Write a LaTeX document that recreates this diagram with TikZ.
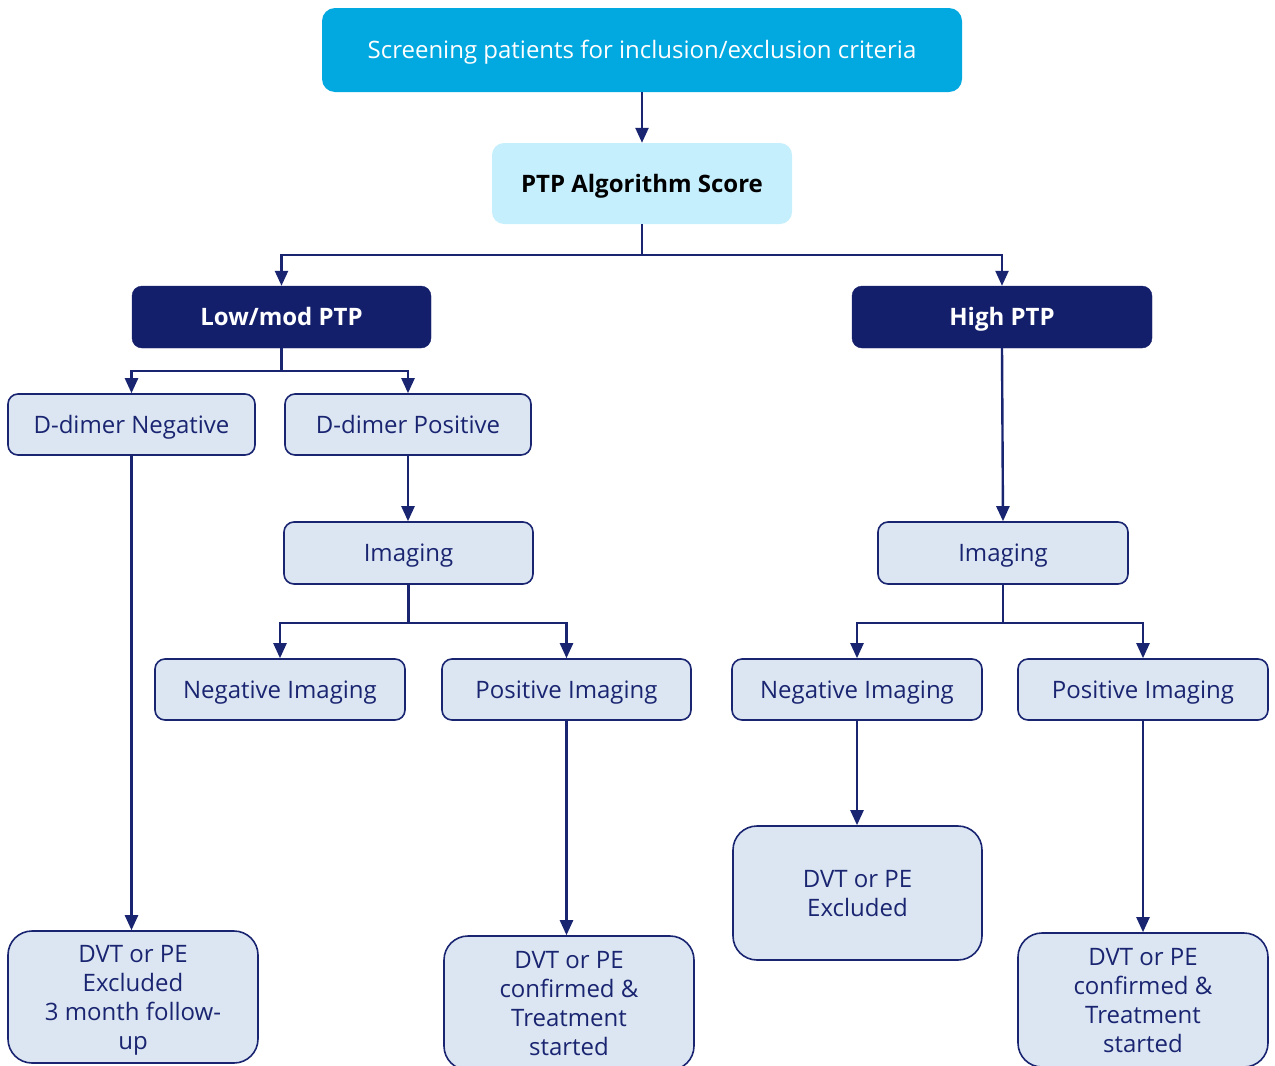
\documentclass[tikz,border=0pt]{standalone}
\usepackage{fontspec}
\setmainfont{Open Sans}
\usetikzlibrary{arrows.meta}
\definecolor{topcyan}{HTML}{02A8E0}
\definecolor{ptpfill}{HTML}{C6EFFD}
\definecolor{navy}{HTML}{141F6B}
\definecolor{linenavy}{HTML}{1A2571}
\definecolor{boxfill}{HTML}{DCE6F2}
\tikzset{
  base/.style={rectangle, rounded corners=10pt, inner sep=0pt, align=center,
    text depth=0pt, font=\fontsize{24}{29}\selectfont},
  oneline/.style={text height=17pt},
  topbox/.style={base, oneline, rounded corners=13pt, fill=topcyan, text=white},
  scorebox/.style={base, oneline, rounded corners=12pt, fill=ptpfill, text=black, font=\fontsize{24}{29}\selectfont\bfseries},
  riskbox/.style={base, oneline, fill=navy, draw=navy, text=white, font=\fontsize{24}{29}\selectfont\bfseries},
  stepbox/.style={base, fill=boxfill, draw=linenavy, line width=1.6pt, text=linenavy},
  smallbox/.style={stepbox, oneline},
  endbox/.style={stepbox, rounded corners=24pt},
  conn/.style={draw=linenavy, line width=2.4pt},
  arr/.style={conn, -{Triangle[length=15pt,width=13pt]}},
}
\begin{document}
\begin{tikzpicture}[x=1pt,y=-1pt]
\useasboundingbox (0,0) rectangle (1275,1066);

% top of the flow
\node[topbox, minimum width=640pt, minimum height=84pt] (screen) at (642,50) {Screening patients for inclusion/exclusion criteria};
\node[scorebox, minimum width=300pt, minimum height=81pt] (score) at (642,183.5) {PTP Algorithm Score};

% risk groups
\node[riskbox, minimum width=299pt, minimum height=62pt] (low) at (281.5,317) {Low/mod PTP};
\node[riskbox, minimum width=300pt, minimum height=62pt] (high) at (1002,317) {High PTP};

% low/moderate branch
\node[smallbox, minimum width=247pt, minimum height=61pt] (dneg) at (131.5,424.5) {D-dimer Negative};
\node[smallbox, minimum width=246pt, minimum height=61pt] (dpos) at (408,424.5) {D-dimer Positive};
\node[smallbox, minimum width=249pt, minimum height=62pt] (imgL) at (408.5,553) {Imaging};
\node[smallbox, minimum width=250pt, minimum height=61pt] (nimL) at (280,689.5) {Negative Imaging};
\node[smallbox, minimum width=249pt, minimum height=61pt] (pimL) at (566.5,689.5) {Positive Imaging};
\node[endbox, minimum width=250pt, minimum height=132pt] (exL) at (133,997) {DVT or PE\\Excluded\\3 month follow-\\up};
\node[endbox, minimum width=250pt, minimum height=134pt] (confL) at (569,1003) {DVT or PE\\confirmed \&\\Treatment\\started};

% high branch
\node[smallbox, minimum width=250pt, minimum height=62pt] (imgR) at (1003,553) {Imaging};
\node[smallbox, minimum width=250pt, minimum height=61pt] (nimR) at (857,689.5) {Negative Imaging};
\node[smallbox, minimum width=250pt, minimum height=61pt] (pimR) at (1143,689.5) {Positive Imaging};
\node[endbox, minimum width=249pt, minimum height=134pt] (exR) at (857.5,893) {DVT or PE\\Excluded};
\node[endbox, minimum width=250pt, minimum height=134pt] (confR) at (1143,1000) {DVT or PE\\confirmed \&\\Treatment\\started};

% connectors
\draw[arr] (screen.south) -- (score.north);
\draw[conn] (score.south) -- ++(0,31) coordinate (split1);
\draw[arr] (split1) -| (low.north);
\draw[arr] (split1) -| (high.north);

\draw[conn] (low.south) -- ++(0,23) coordinate (split2);
\draw[arr] (split2) -| (dneg.north);
\draw[arr] (split2) -| (dpos.north);

\draw[arr] (dneg.south) -- (dneg.south |- exL.north);
\draw[arr] (dpos.south) -- (dpos.south |- imgL.north);

\draw[conn] (imgL.south) -- ++(0,38) coordinate (split3);
\draw[arr] (split3) -| (nimL.north);
\draw[arr] (split3) -| (pimL.north);
\draw[arr] (pimL.south) -- (pimL.south |- confL.north);

\draw[arr] (high.south) -- (imgR.north);
\draw[conn] (imgR.south) -- ++(0,38) coordinate (split4);
\draw[arr] (split4) -| (nimR.north);
\draw[arr] (split4) -| (pimR.north);
\draw[arr] (nimR.south) -- (nimR.south |- exR.north);
\draw[arr] (pimR.south) -- (confR.north);
\end{tikzpicture}
\end{document}
